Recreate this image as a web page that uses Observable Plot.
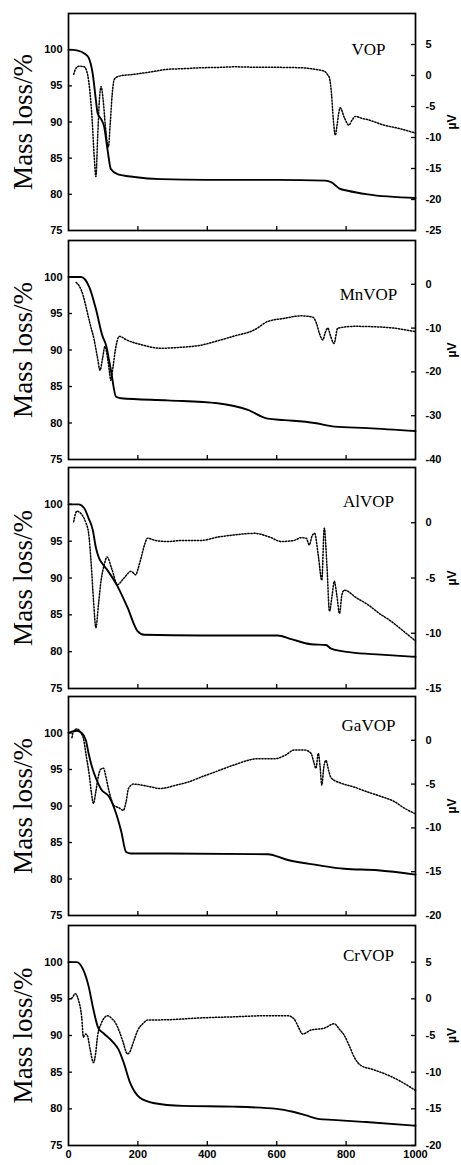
<!DOCTYPE html>
<html><head><meta charset="utf-8">
<script src="https://cdn.jsdelivr.net/npm/d3@7"></script>
<script src="https://cdn.jsdelivr.net/npm/@observablehq/plot@0.6"></script>
<style>body{margin:0;background:#fff} #chart svg{display:block;overflow:visible;background:transparent}</style>
</head><body><div id="chart"></div>
<script>
// ---------- data ----------
const names = ["VOP", "MnVOP", "AlVOP", "GaVOP", "CrVOP"];
const massTicks = [75, 80, 85, 90, 95, 100];
const tempTicks = [0, 200, 400, 600, 800, 1000];
const innerTempTicks = [200, 400, 600, 800];
const uvDomains = [[-25, 10], [-40, 10], [-15, 5], [-20, 5], [-20, 10]];
const uvTicks = [
  [-25, -20, -15, -10, -5, 0, 5],
  [-40, -30, -20, -10, 0],
  [-15, -10, -5, 0],
  [-20, -15, -10, -5, 0],
  [-20, -15, -10, -5, 0, 5]
];

// TG curves: [temperature, mass %]
const tgVOP = [[0,100],[24,99.9],[48,99.4],[58,98.9],[70,96.6],[79,93],[84,91.2],[94,90.4],[103,89.3],[113,86],[122,83.5],[141,82.8],[190,82.4],[267,82.1],[400,82],[600,82],[740,81.9],[757,81.7],[781,80.8],[805,80.5],[862,80],[1000,79.5]];
const tgMnVOP = [[0,100],[36,100],[60,98.6],[79,95.6],[98,91.9],[108,90.7],[122,87.3],[137,83.6],[151,83.4],[286,83.1],[430,82.7],[517,81.8],[574,80.6],[622,80.4],[709,80.0],[767,79.5],[862,79.3],[1000,78.9]];
const tgAlVOP = [[0,100],[29,100],[45,99.5],[58,98.1],[70,96.5],[79,94.1],[88,92.7],[100,91.8],[113,91],[141,88.9],[170,86],[199,82.8],[218,82.3],[382,82.2],[603,82.2],[642,81.7],[699,81.0],[742,80.9],[757,80.4],[814,79.9],[900,79.6],[1000,79.3]];
const tgGaVOP = [[0,100],[24,100.3],[38,100],[50,99],[58,97.2],[68,95.3],[79,93.8],[94,92.3],[118,91.2],[137,89],[152,86.5],[166,83.7],[180,83.5],[286,83.5],[574,83.4],[632,82.6],[718,81.9],[795,81.4],[891,81.2],[1000,80.6]];
const tgCrVOP = [[0,100],[24,100],[43,98.9],[58,96.7],[72,93.5],[86,91],[101,90.3],[130,89],[144,88.1],[159,86.3],[178,83.5],[206,81.5],[244,80.8],[330,80.4],[474,80.3],[600,80],[647,79.6],[685,79.1],[723,78.6],[761,78.5],[857,78.2],[1000,77.7]];

// DTA curves: [temperature, µV]
const dtaVOP = [[15,0.2],[22,1.2],[30,1.5],[45,1.4],[52,0.8],[60,-1.7],[68,-7],[74,-13],[79,-16.3],[84,-10],[89,-4],[94,-1.8],[100,-4],[106,-8],[112,-11],[115,-11.5],[120,-8],[126,-3],[132,-0.6],[146,-0.1],[190,0.2],[240,0.6],[286,1.0],[330,1.1],[382,1.25],[430,1.3],[478,1.4],[526,1.35],[574,1.35],[620,1.3],[670,1.25],[710,1.0],[737,0.7],[747,0.1],[752,-0.4],[758,-3],[763,-7],[769,-9.6],[774,-8],[779,-6],[783,-5.2],[795,-6.8],[808,-8.0],[817,-7.2],[827,-6.6],[845,-6.9],[861,-7.1],[909,-8.0],[957,-8.6],[1000,-9.3]];
const dtaMnVOP = [[22,0.4],[31,-0.4],[42,-2.5],[50,-5],[62,-9],[74,-12.7],[83,-16.5],[91,-19.6],[98,-17],[105,-14.2],[112,-16.5],[118,-20],[122,-21.9],[128,-19],[135,-15],[146,-11.9],[170,-12.8],[210,-13.8],[267,-14.6],[320,-14.4],[382,-13.9],[430,-12.9],[478,-11.8],[536,-10.4],[574,-8.5],[620,-7.8],[670,-7.2],[704,-7.5],[715,-9],[723,-11.2],[733,-12.7],[740,-11],[747,-10.0],[756,-12],[765,-13.5],[776,-10],[824,-9.6],[910,-9.8],[1000,-10.8]];
const dtaAlVOP = [[15,0.1],[20,0.8],[24,1.05],[32,0.95],[38,0.75],[50,0],[58,-0.96],[66,-4],[72,-7],[79,-9.5],[86,-7.5],[94,-5.2],[103,-3.8],[111,-3.1],[125,-4.2],[141,-5.6],[160,-5],[180,-4.4],[194,-4.7],[200,-4.2],[209,-3.2],[220,-1.9],[228,-1.4],[250,-1.6],[286,-1.7],[330,-1.6],[382,-1.6],[430,-1.3],[478,-1.1],[536,-0.96],[580,-1.3],[613,-1.7],[650,-1.6],[670,-1.35],[685,-1.4],[694,-2.0],[702,-1.2],[709,-0.96],[720,-3],[730,-5.2],[737,-0.5],[745,-4],[752,-8.0],[760,-6.5],[766,-5.3],[773,-6.5],[781,-8.2],[788,-6.5],[795,-6.1],[830,-6.8],[862,-7.4],[900,-8.3],[929,-8.9],[965,-9.8],[1000,-10.7]];
const dtaGaVOP = [[10,0.3],[14,1.0],[24,1.3],[35,0.9],[43,0.2],[52,-2],[60,-4.0],[66,-6],[72,-7.2],[79,-5.8],[86,-4.1],[93,-3.3],[101,-3.2],[108,-4.2],[115,-5.5],[123,-6.7],[130,-7.4],[145,-7.7],[158,-8.0],[166,-7],[173,-5.5],[187,-5.0],[235,-5.3],[264,-5.5],[312,-5.1],[350,-4.7],[382,-4.2],[430,-3.5],[478,-2.8],[546,-2.1],[594,-2.1],[625,-1.7],[651,-1.1],[680,-1.1],[699,-1.5],[707,-2.5],[713,-3.2],[720,-1.5],[725,-3],[730,-5.1],[736,-3],[742,-2.3],[750,-3.5],[757,-4.3],[786,-4.9],[820,-5.3],[862,-5.9],[900,-6.4],[939,-7.0],[970,-7.8],[1000,-8.4]];
const dtaCrVOP = [[0,0],[10,0.1],[19,0.7],[29,-0.2],[38,-2.5],[43,-5.2],[50,-4.8],[55,-5.1],[62,-6.8],[72,-8.7],[78,-7.5],[84,-5.0],[94,-3.4],[103,-2.6],[113,-2.3],[125,-2.7],[137,-3.4],[147,-4.5],[156,-5.7],[170,-7.5],[176,-7.3],[182,-6.6],[190,-5.5],[199,-4.35],[214,-3.4],[228,-2.9],[286,-2.85],[382,-2.6],[478,-2.45],[574,-2.3],[632,-2.3],[651,-2.8],[662,-3.8],[675,-4.8],[699,-4.25],[737,-4.0],[766,-3.4],[780,-4.1],[795,-5.0],[810,-6.5],[824,-8.0],[843,-9.1],[875,-9.6],[910,-10.2],[955,-11.2],[1000,-12.5]];

const tgSeries = [tgVOP, tgMnVOP, tgAlVOP, tgGaVOP, tgCrVOP];
const dtaSeries = [dtaVOP, dtaMnVOP, dtaAlVOP, dtaGaVOP, dtaCrVOP];

// ---------- layout ----------
const W = 461, ML = 68, MR = 46;
const layout = [
  {h: 235, mt: 13, mb: 5, ty: 29},
  {h: 228, mt: 5, mb: 4, ty: 47},
  {h: 229, mt: 4, mb: 4, ty: 27},
  {h: 228, mt: 4, mb: 5, ty: 22},
  {h: 245, mt: 5, mb: 20, ty: 23}
];
const massDomain = [75, 105];
const sans = "Liberation Sans, Arial, sans-serif";
const serif = "Liberation Serif, Times New Roman, serif";
const chart = document.getElementById("chart");

names.forEach((name, i) => {
  const L = layout[i];
  const plotW = W - ML - MR;
  const plotH = L.h - L.mt - L.mb;
  const r2l = d3.scaleLinear(uvDomains[i], massDomain);
  const last = i === names.length - 1;
  const marks = [
    Plot.line(tgSeries[i], {x: d => d[0], y: d => d[1], stroke: "#000", strokeWidth: 1.9, curve: "monotone-x"}),
    Plot.line(dtaSeries[i], {x: d => d[0], y: d => r2l(d[1]), stroke: "#000", strokeWidth: 1.5, strokeDasharray: "1.3,1.7", curve: "monotone-x"}),
    Plot.frame({stroke: "#000", strokeWidth: 1.7}),
    Plot.tickY(massTicks.slice(1), {y: d => d, insetRight: plotW - 4, stroke: "#000", strokeWidth: 1.3}),
    Plot.tickY(uvTicks[i], {y: d => r2l(d), insetLeft: plotW - 4, stroke: "#000", strokeWidth: 1.3}),
    Plot.tickX(innerTempTicks, {x: d => d, insetTop: plotH - 4, stroke: "#000", strokeWidth: 1.3}),
    Plot.axisY(massTicks, {anchor: "left", tickSize: 0, tickPadding: 6, label: null, fontSize: 11, fontWeight: "bold", fontFamily: sans}),
    Plot.axisY(uvTicks[i], {anchor: "right", y: r2l, tickSize: 0, tickPadding: 10, label: null, tickFormat: d => String(d), fontSize: 11, fontWeight: "bold", fontFamily: sans}),
    Plot.text(["µV"], {frameAnchor: "right", dx: 37, rotate: -90, textAnchor: "middle", fontSize: 12, fontWeight: "bold", fontFamily: sans}),
    Plot.text(["Mass loss/%"], {frameAnchor: "left", dx: -45, rotate: -90, textAnchor: "middle", fontSize: 27, fontFamily: serif}),
    Plot.text([name], {frameAnchor: "top-right", dx: -47, dy: L.ty, textAnchor: "middle", fontSize: 17, fontFamily: serif})
  ];
  if (last) {
    marks.push(Plot.axisX(tempTicks, {anchor: "bottom", tickSize: 0, tickPadding: 5, label: null, tickFormat: d => String(d), fontSize: 11, fontWeight: "bold", fontFamily: sans}));
  }
  const svg = Plot.plot({
    width: W,
    height: L.h,
    marginLeft: ML,
    marginRight: MR,
    marginTop: L.mt,
    marginBottom: L.mb,
    x: {domain: [0, 1000], axis: null},
    y: {domain: massDomain, axis: null},
    style: {background: "transparent", color: "#000", fontFamily: sans, overflow: "visible"},
    marks
  });
  chart.appendChild(svg);
});
</script>
</body></html>
